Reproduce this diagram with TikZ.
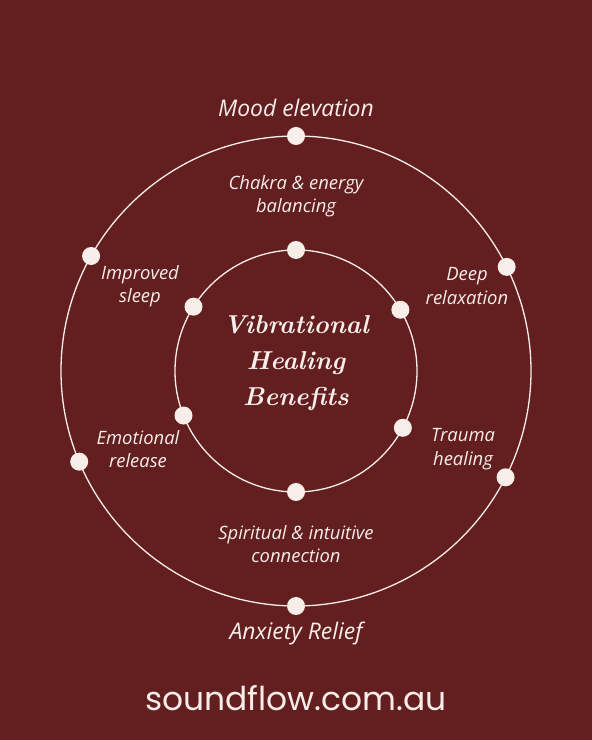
\documentclass[tikz,border=0pt]{standalone}
\usepackage{fontspec}
\usepackage{tikz}
\usetikzlibrary{calc, positioning}
\newfontfamily\labelfont{Open Sans}
\newfontfamily\urlfont{Poppins}
\definecolor{wine}{RGB}{99,30,31}
\definecolor{cream}{RGB}{247,238,234}

\begin{document}
\begin{tikzpicture}[x=1bp, y=1bp,
    ring/.style={draw=cream, line width=1.3bp},
    dot/.style={circle, fill=cream, minimum size=18bp, inner sep=0pt},
    benefit/.style={cream, align=center, font=\labelfont\itshape\fontsize{18.5}{23.5}\selectfont}]
    % Background
    \fill[wine] (0,0) rectangle (592,740);
    \useasboundingbox (0,0) rectangle (592,740);
    \coordinate (c) at (296,369);

    % Rings
    \draw[ring] (c) circle (235);
    \draw[ring] (c) circle (121);

    % Outer dots
    \node[dot] (o1) at ($(c)+(90:235)$) {};
    \node[dot] (o2) at ($(c)+(26.3:235)$) {};
    \node[dot] (o3) at ($(c)+(-26.9:235)$) {};
    \node[dot] (o4) at ($(c)+(-90:235)$) {};
    \node[dot] (o5) at ($(c)+(202.7:235)$) {};
    \node[dot] (o6) at ($(c)+(150.7:235)$) {};

    % Inner dots
    \node[dot] (i1) at ($(c)+(90:121)$) {};
    \node[dot] (i2) at ($(c)+(30.4:121)$) {};
    \node[dot] (i3) at ($(c)+(-28:121)$) {};
    \node[dot] (i4) at ($(c)+(-90:121)$) {};
    \node[dot] (i5) at ($(c)+(201.6:121)$) {};
    \node[dot] (i6) at ($(c)+(147.9:121)$) {};

    % Title
    \node[cream, align=center, font=\bfseries\itshape\fontsize{26}{36.5}\selectfont] (title) at (296,377) {Vibrational\\Healing\\Benefits};

    % Labels
    \node[benefit, font=\labelfont\itshape\fontsize{23}{27}\selectfont] (mood) at (296,632) {Mood elevation};
    \node[benefit] (chakra) at (296,544) {Chakra \& energy\\balancing};
    \node[benefit] (sleep) at (140,454) {Improved\\sleep};
    \node[benefit] (deep) at (467,454) {Deep\\relaxation};
    \node[benefit] (emotional) at (138,291) {Emotional\\release};
    \node[benefit] (trauma) at (463,291) {Trauma\\healing};
    \node[benefit] (spiritual) at (296,196) {Spiritual \& intuitive\\connection};
    \node[benefit, font=\labelfont\itshape\fontsize{23}{27}\selectfont] (anxiety) at (296,107) {Anxiety Relief};

    % Website
    \node[cream, font=\urlfont\fontsize{33}{40}\selectfont] (url) at (296,42) {soundflow.com.au};
\end{tikzpicture}
\end{document}
